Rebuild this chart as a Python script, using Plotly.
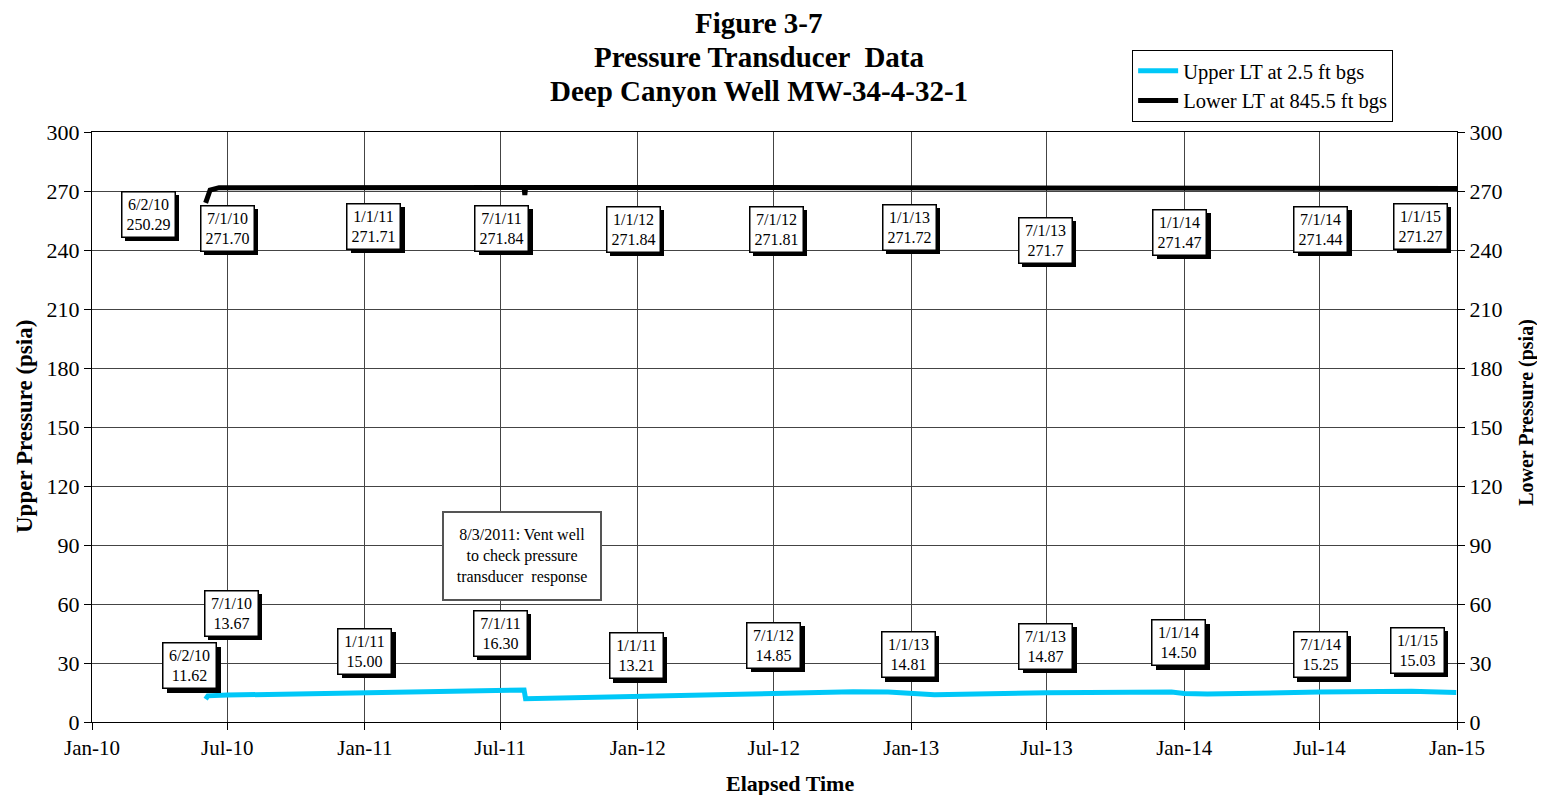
import plotly.graph_objects as go

# ---- data ----
upper_dates = ["2010-06-02", "2010-06-05", "2010-07-01", "2011-01-01", "2011-07-01", "2011-08-02",
               "2011-08-04", "2012-01-01", "2012-07-01", "2012-10-15", "2012-12-01", "2013-01-01",
               "2013-02-01", "2013-07-01", "2013-11-01", "2013-12-15", "2014-01-01", "2014-02-01",
               "2014-07-01", "2014-11-01", "2014-12-31"]
upper_vals = [11.62, 13.3, 13.67, 15.00, 16.30, 16.3, 11.8, 13.21, 14.85, 15.4, 15.3, 14.3,
              13.8, 14.87, 15.4, 15.2, 14.5, 14.2, 15.25, 15.6, 15.03]

lower_dates = ["2010-06-02", "2010-06-08", "2010-06-20", "2010-07-01", "2011-01-01", "2011-07-01",
               "2011-08-02", "2011-08-03", "2011-08-04", "2012-01-01", "2012-07-01", "2013-01-01",
               "2013-07-01", "2014-01-01", "2014-07-01", "2015-01-01"]
lower_vals = [264.0, 270.5, 271.70, 271.70, 271.71, 271.84, 271.84, 268.0, 271.84, 271.84,
              271.81, 271.72, 271.7, 271.47, 271.44, 271.27]

# label text and anchor positions (date, value on axis)
lower_labels = ["6/2/10<br>250.29", "7/1/10<br>271.70", "1/1/11<br>271.71", "7/1/11<br>271.84",
                "1/1/12<br>271.84", "7/1/12<br>271.81", "1/1/13<br>271.72", "7/1/13<br>271.7",
                "1/1/14<br>271.47", "7/1/14<br>271.44", "1/1/15<br>271.27"]
lower_label_x = ["2010-03-17", "2010-07-01", "2011-01-13", "2011-07-03", "2011-12-26", "2012-07-04",
                 "2012-12-29", "2013-06-29", "2013-12-26", "2014-07-03", "2014-11-13"]
lower_label_y = [258.3, 251.1, 252.2, 251.1, 250.6, 250.6, 251.6, 245.0, 249.0, 250.6, 252.2]

upper_labels = ["6/2/10<br>11.62", "7/1/10<br>13.67", "1/1/11<br>15.00", "7/1/11<br>16.30",
                "1/1/11<br>13.21", "7/1/12<br>14.85", "1/1/13<br>14.81", "7/1/13<br>14.87",
                "1/1/14<br>14.50", "7/1/14<br>15.25", "1/1/15<br>15.03"]
upper_label_x = ["2010-05-12", "2010-07-06", "2011-01-01", "2011-07-01", "2011-12-30", "2012-07-01",
                 "2012-12-28", "2013-06-30", "2013-12-25", "2014-07-02", "2014-11-09"]
upper_label_y = [28.5, 55.4, 36.1, 45.2, 33.6, 39.1, 34.1, 38.6, 40.2, 34.1, 36.6]

note_text = "8/3/2011: Vent well<br>to check pressure<br>transducer  response"
note_x = "2011-07-30"
note_y = 84.4

title_lines = ["Figure 3-7", "Pressure Transducer  Data", "Deep Canyon Well MW-34-4-32-1"]
y_ticks = list(range(0, 301, 30))

FONT = "Liberation Serif, Times New Roman, serif"

fig = go.Figure()
fig.add_trace(go.Scatter(x=upper_dates, y=upper_vals, mode="lines", name="Upper LT at 2.5 ft bgs",
                         line=dict(color="#00C8F8", width=5)))
fig.add_trace(go.Scatter(x=lower_dates, y=lower_vals, mode="lines", name="Lower LT at 845.5 ft bgs",
                         line=dict(color="black", width=5), yaxis="y2"))

annotations = []
BW, BH = 48, 40
def add_box(text, x, y):
    # drop shadow (blank box)
    annotations.append(dict(x=x, y=y, xref="x", yref="y", text=" ", showarrow=False,
                            font=dict(family=FONT, size=16, color="black"), width=BW, height=BH,
                            bgcolor="black", bordercolor="black", borderwidth=1, borderpad=2,
                            xshift=4, yshift=-4))
    annotations.append(dict(x=x, y=y, xref="x", yref="y", text=text, showarrow=False,
                            font=dict(family=FONT, size=16, color="black"), width=BW, height=BH,
                            bgcolor="white", bordercolor="black", borderwidth=1.5, borderpad=2))

for t, x, y in zip(lower_labels, lower_label_x, lower_label_y):
    add_box(t, x, y)
for t, x, y in zip(upper_labels, upper_label_x, upper_label_y):
    add_box(t, x, y)

annotations.append(dict(x=note_x, y=note_y, xref="x", yref="y", text=note_text, showarrow=False,
                        font=dict(family=FONT, size=16, color="black"), bgcolor="white",
                        width=148, height=78, bordercolor="#555555", borderwidth=2, borderpad=4))

# title lines
for txt, yy in zip(title_lines, [1.184, 1.127, 1.069]):
    annotations.append(dict(x=0.489, y=yy, xref="paper", yref="paper", text="<b>%s</b>" % txt,
                            showarrow=False, xanchor="center", yanchor="middle",
                            font=dict(family=FONT, size=29, color="black")))
# axis titles
annotations.append(dict(x=-0.0498, y=0.500, xref="paper", yref="paper", text="<b>Upper Pressure (psia)</b>",
                        showarrow=False, textangle=-90, xanchor="center", yanchor="middle",
                        font=dict(family=FONT, size=23, color="black")))
annotations.append(dict(x=1.051, y=0.525, xref="paper", yref="paper", text="<b>Lower Pressure (psia)</b>",
                        showarrow=False, textangle=-90, xanchor="center", yanchor="middle",
                        font=dict(family=FONT, size=20, color="black")))
annotations.append(dict(x=0.511, y=-0.104, xref="paper", yref="paper", text="<b>Elapsed Time</b>",
                        showarrow=False, xanchor="center", yanchor="middle",
                        font=dict(family=FONT, size=22, color="black")))

axis_common = dict(range=[0, 300], tickvals=y_ticks, showgrid=True, gridcolor="#444444", gridwidth=1,
                   showline=True, linecolor="black", linewidth=1, ticks="outside", ticklen=7,
                   tickcolor="black", tickfont=dict(family=FONT, size=22, color="black"),
                   zeroline=False, automargin=False)

fig.update_layout(
    width=1529, height=787,
    margin=dict(l=84, r=80, t=124, b=73),
    plot_bgcolor="white", paper_bgcolor="white",
    xaxis=dict(type="date", range=["2010-01-01", "2015-01-01"], dtick="M6", tick0="2010-01-01",
               tickformat="%b-%y", showgrid=True, gridcolor="#444444", gridwidth=1, showline=True,
               linecolor="black", linewidth=1, ticks="outside", ticklen=7, tickcolor="black",
               mirror=True, tickfont=dict(family=FONT, size=21, color="black"), automargin=False),
    yaxis=axis_common,
    yaxis2=dict(**axis_common, overlaying="y", side="right"),
    legend=dict(x=0.762, y=1.139, xanchor="left", yanchor="top", bgcolor="white",
                bordercolor="black", borderwidth=1, font=dict(family=FONT, size=20.5, color="black"),
                tracegroupgap=2, itemwidth=40),
    showlegend=True,
    annotations=annotations,
)
fig.update_layout(yaxis2=dict(showgrid=False))

fig.write_html("out.html")
